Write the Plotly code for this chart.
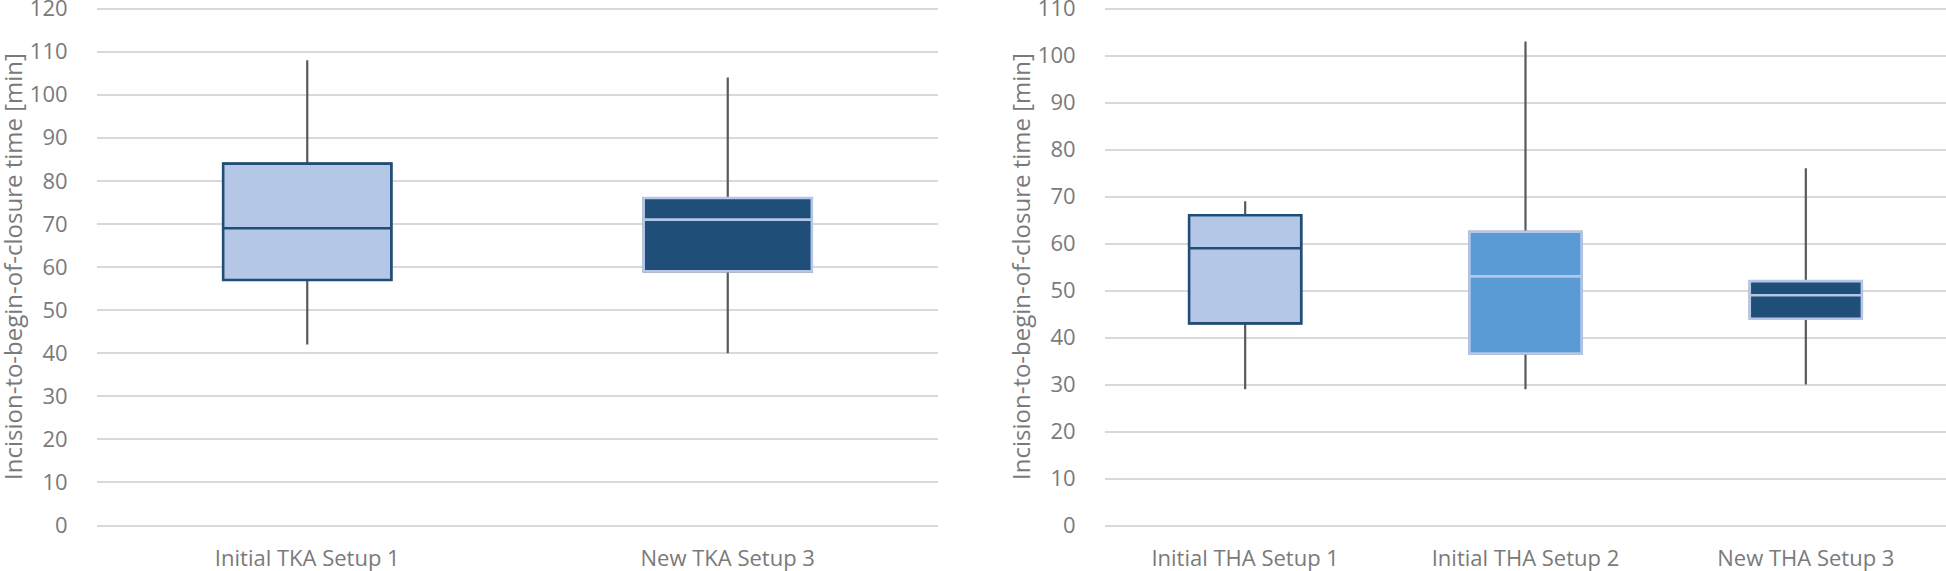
import plotly.graph_objects as go

# ---- data ----
tka_categories = ["Initial TKA Setup 1", "New TKA Setup 3"]
tka_lower = [42, 40]
tka_q1 = [57, 59]
tka_median = [69, 71]
tka_q3 = [84, 76]
tka_upper = [108, 104]

tha_categories = ["Initial THA Setup 1", "Initial THA Setup 2", "New THA Setup 3"]
tha_lower = [29, 29, 30]
tha_q1 = [43, 36.6, 44]
tha_median = [59, 53, 49]
tha_q3 = [66, 62.5, 52]
tha_upper = [69, 103, 76]

tka_ticks = list(range(0, 121, 10))
tha_ticks = list(range(0, 111, 10))

y_title = "Incision-to-begin-of-closure time [min]"

# ---- styles ----
tka_fill = ["#b4c7e7", "#1f4e79"]
tka_line = ["#1f4e79", "#b4c7e7"]
tha_fill = ["#b4c7e7", "#5b9bd5", "#1f4e79"]
tha_line = ["#1f4e79", "#b4c7e7", "#b4c7e7"]
whisker_color = "#595959"
text_color = "#7a7a7a"
grid_color = "#d9d9d9"
FONT = "Open Sans"

fig = go.Figure()


def add_boxes(cats, lo, q1, med, q3, hi, fills, lines, xa, ya):
    for i, c in enumerate(cats):
        # whiskers (grey)
        fig.add_trace(go.Box(
            x=[c], q1=[q1[i]], median=[med[i]], q3=[q3[i]],
            lowerfence=[lo[i]], upperfence=[hi[i]],
            width=0.4, whiskerwidth=0, fillcolor=fills[i],
            line=dict(color=whisker_color, width=2.2),
            boxpoints=False, showlegend=False, hoverinfo="skip",
            xaxis=xa, yaxis=ya))
        # box on top
        fig.add_trace(go.Box(
            x=[c], q1=[q1[i]], median=[med[i]], q3=[q3[i]],
            lowerfence=[q1[i]], upperfence=[q3[i]],
            width=0.4, whiskerwidth=0, fillcolor=fills[i],
            line=dict(color=lines[i], width=2.6),
            boxpoints=False, showlegend=False,
            xaxis=xa, yaxis=ya))


add_boxes(tka_categories, tka_lower, tka_q1, tka_median, tka_q3, tka_upper,
          tka_fill, tka_line, "x", "y")
add_boxes(tha_categories, tha_lower, tha_q1, tha_median, tha_q3, tha_upper,
          tha_fill, tha_line, "x2", "y2")

W, H = 1946, 571
y_top_px, y_bot_px = 8.0, 526.0   # pixel rows of top and bottom gridlines
pad_px = 2.5
top = y_top_px - pad_px
bottom = y_bot_px + pad_px


def padded(vmax):
    k = (y_bot_px - y_top_px) / vmax
    p = pad_px / k
    return [-p, vmax + p]


yax_common = dict(
    showgrid=True, gridcolor=grid_color, gridwidth=2, zeroline=False,
    showline=False, ticks="outside", ticklen=24, tickcolor="rgba(0,0,0,0)",
    tickfont=dict(family=FONT, size=22, color=text_color), fixedrange=True,
    ticklabeloverflow="allow",
)
xax_common = dict(
    showgrid=False, zeroline=False, showline=False, ticks="outside",
    ticklen=11, tickcolor="rgba(0,0,0,0)",
    tickfont=dict(family=FONT, size=22, color=text_color), type="category",
    ticklabeloverflow="allow",
)

fig.update_layout(
    width=W, height=H, paper_bgcolor="white", plot_bgcolor="white",
    margin=dict(l=0, r=0, t=top, b=H - bottom, autoexpand=False),
    showlegend=False, boxmode="overlay",
    xaxis=dict(domain=[97 / W, 938 / W], anchor="y",
               range=[-0.5, len(tka_categories) - 0.5], **xax_common),
    yaxis=dict(domain=[0, 1], anchor="x", range=padded(120), tickvals=tka_ticks,
               **yax_common),
    xaxis2=dict(domain=[1105 / W, 1.0], anchor="y2",
                range=[-0.5, len(tha_categories) - 0.5], **xax_common),
    yaxis2=dict(domain=[0, 1], anchor="x2", range=padded(110), tickvals=tha_ticks,
                **yax_common),
    annotations=[
        dict(text=y_title, textangle=-90, x=12 / W, y=0.5, xref="paper",
             yref="paper", showarrow=False, xanchor="center", yanchor="middle",
             font=dict(family=FONT, size=24, color=text_color)),
        dict(text=y_title, textangle=-90, x=1020 / W, y=0.5, xref="paper",
             yref="paper", showarrow=False, xanchor="center", yanchor="middle",
             font=dict(family=FONT, size=24, color=text_color)),
    ],
)

fig.write_html(
    "out.html",
    config={"displayModeBar": False},
    post_script="document.body.style.margin='0';document.body.style.overflow='hidden';",
)
